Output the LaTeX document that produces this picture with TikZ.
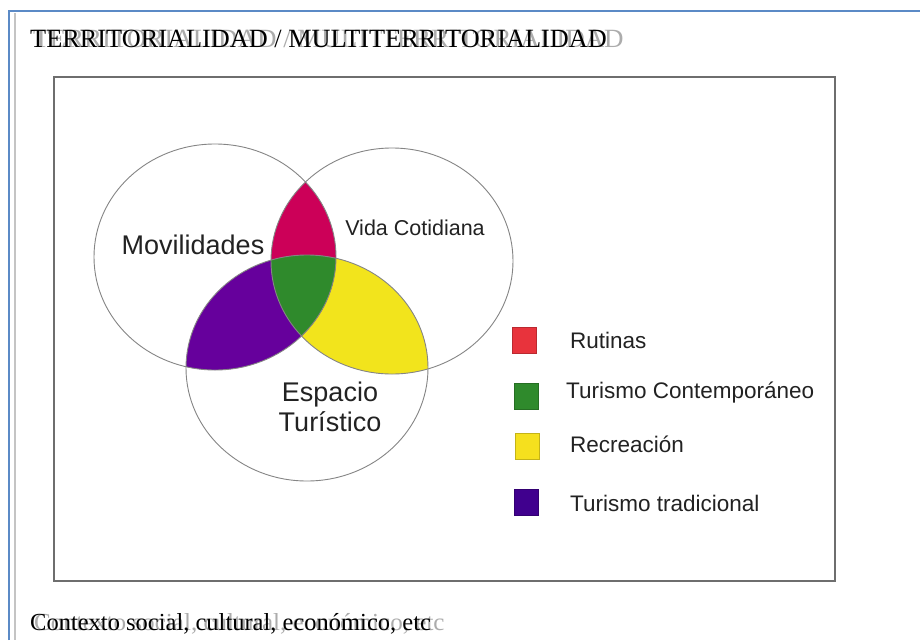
\documentclass[tikz,border=0pt]{standalone}
\usepackage{fontspec}
\setmainfont{Liberation Serif}
\newfontfamily\arialf{Liberation Sans}
\definecolor{frameblue}{HTML}{5B8AC6}
\definecolor{framegray}{HTML}{C4C4C4}
\definecolor{boxgray}{HTML}{6E6E6E}
\definecolor{ringgray}{HTML}{858585}
\definecolor{vred}{HTML}{CC0058}
\definecolor{vgreen}{HTML}{2F8A2C}
\definecolor{vyellow}{HTML}{F2E41C}
\definecolor{vpurple}{HTML}{66009C}
\definecolor{lred}{HTML}{E8333C}
\definecolor{lgreen}{HTML}{2F8A2C}
\definecolor{lyellow}{HTML}{F5E01E}
\definecolor{lpurple}{HTML}{40008E}
\definecolor{ghost}{HTML}{ACACAC}
\definecolor{labeltext}{HTML}{222222}
\def\Mcirc{(215,257) ellipse [x radius=121pt, y radius=113pt]}
\def\Vcirc{(392,261) ellipse [x radius=121pt, y radius=113pt]}
\def\Ecirc{(307,368) ellipse [x radius=121pt, y radius=113pt]}
\tikzset{
  ring/.style={draw=ringgray, line width=0.9pt},
  swatch/.style={minimum width=24pt, minimum height=26pt, inner sep=0pt, draw=#1!80!black, line width=0.5pt, fill=#1},
  legtext/.style={anchor=west, inner sep=0pt, font=\arialf\fontsize{22.5}{26}\selectfont, text=labeltext},
  biglabel/.style={inner sep=0pt, font=\arialf\fontsize{27}{30}\selectfont, text=labeltext, align=center},
  serifblack/.style={anchor=base west, inner sep=0pt, font=\fontsize{#1}{30}\selectfont, text=black},
  serifghost/.style={anchor=base west, inner sep=0pt, font=\fontsize{#1}{30}\selectfont, text=ghost}
}
\begin{document}
\begin{tikzpicture}[x=1pt,y=-1pt]
\useasboundingbox (0,0) rectangle (920,640);
\fill[white] (0,0) rectangle (920,640);
% page frame
\draw[framegray, line width=2pt] (15,13) -- (15,640);
\draw[frameblue, line width=2.5pt] (9,640) -- (9,11) -- (920,11);
% inner box
\draw[boxgray, line width=1.3pt] (54,77) rectangle (835,581);
% Venn fills
\begin{scope} \clip \Mcirc; \fill[vred] \Vcirc; \end{scope}
\begin{scope} \clip \Vcirc; \fill[vyellow] \Ecirc; \end{scope}
\begin{scope} \clip \Mcirc; \fill[vpurple] \Ecirc; \end{scope}
\begin{scope} \clip \Mcirc; \clip \Vcirc; \fill[vgreen] \Ecirc; \end{scope}
\draw[ring] \Mcirc;
\draw[ring] \Vcirc;
\draw[ring] \Ecirc;
% circle labels
\node[biglabel] (mov) at (193,245) {Movilidades};
\node[biglabel, font=\arialf\fontsize{21.5}{26}\selectfont] (vida) at (415,228) {Vida Cotidiana};
\node[biglabel] (esp) at (330,407) {Espacio\\Turístico};
% legend
\node[swatch=lred] (s1) at (524,340) {};
\node[swatch=lgreen] (s2) at (526,396) {};
\node[swatch=lyellow] (s3) at (527,446) {};
\node[swatch=lpurple] (s4) at (526,502) {};
\node[legtext] (t1) at (570,340) {Rutinas};
\node[legtext] (t2) at (566,393) {Turismo Contemporáneo};
\node[legtext] (t3) at (570,444) {Recreación};
\node[legtext] (t4) at (570,503) {Turismo tradicional};
% title and footer with ghost copies
\node[serifghost=26.3] (titleg) at (33,47) {\scalebox{1.024}[1]{TERRITORIALIDAD / MULTITERRITORIALIDAD}};
\node[serifblack=26.3] (title) at (30,47) {TERRITORIALIDAD / MULTITERRITORIALIDAD};
\node[serifghost=24.5] (footg) at (34,630) {\scalebox{1.024}[1]{Contexto social, cultural, económico, etc}};
\node[serifblack=24.5] (foot) at (30,630) {Contexto social, cultural, económico, etc};
\end{tikzpicture}
\end{document}
